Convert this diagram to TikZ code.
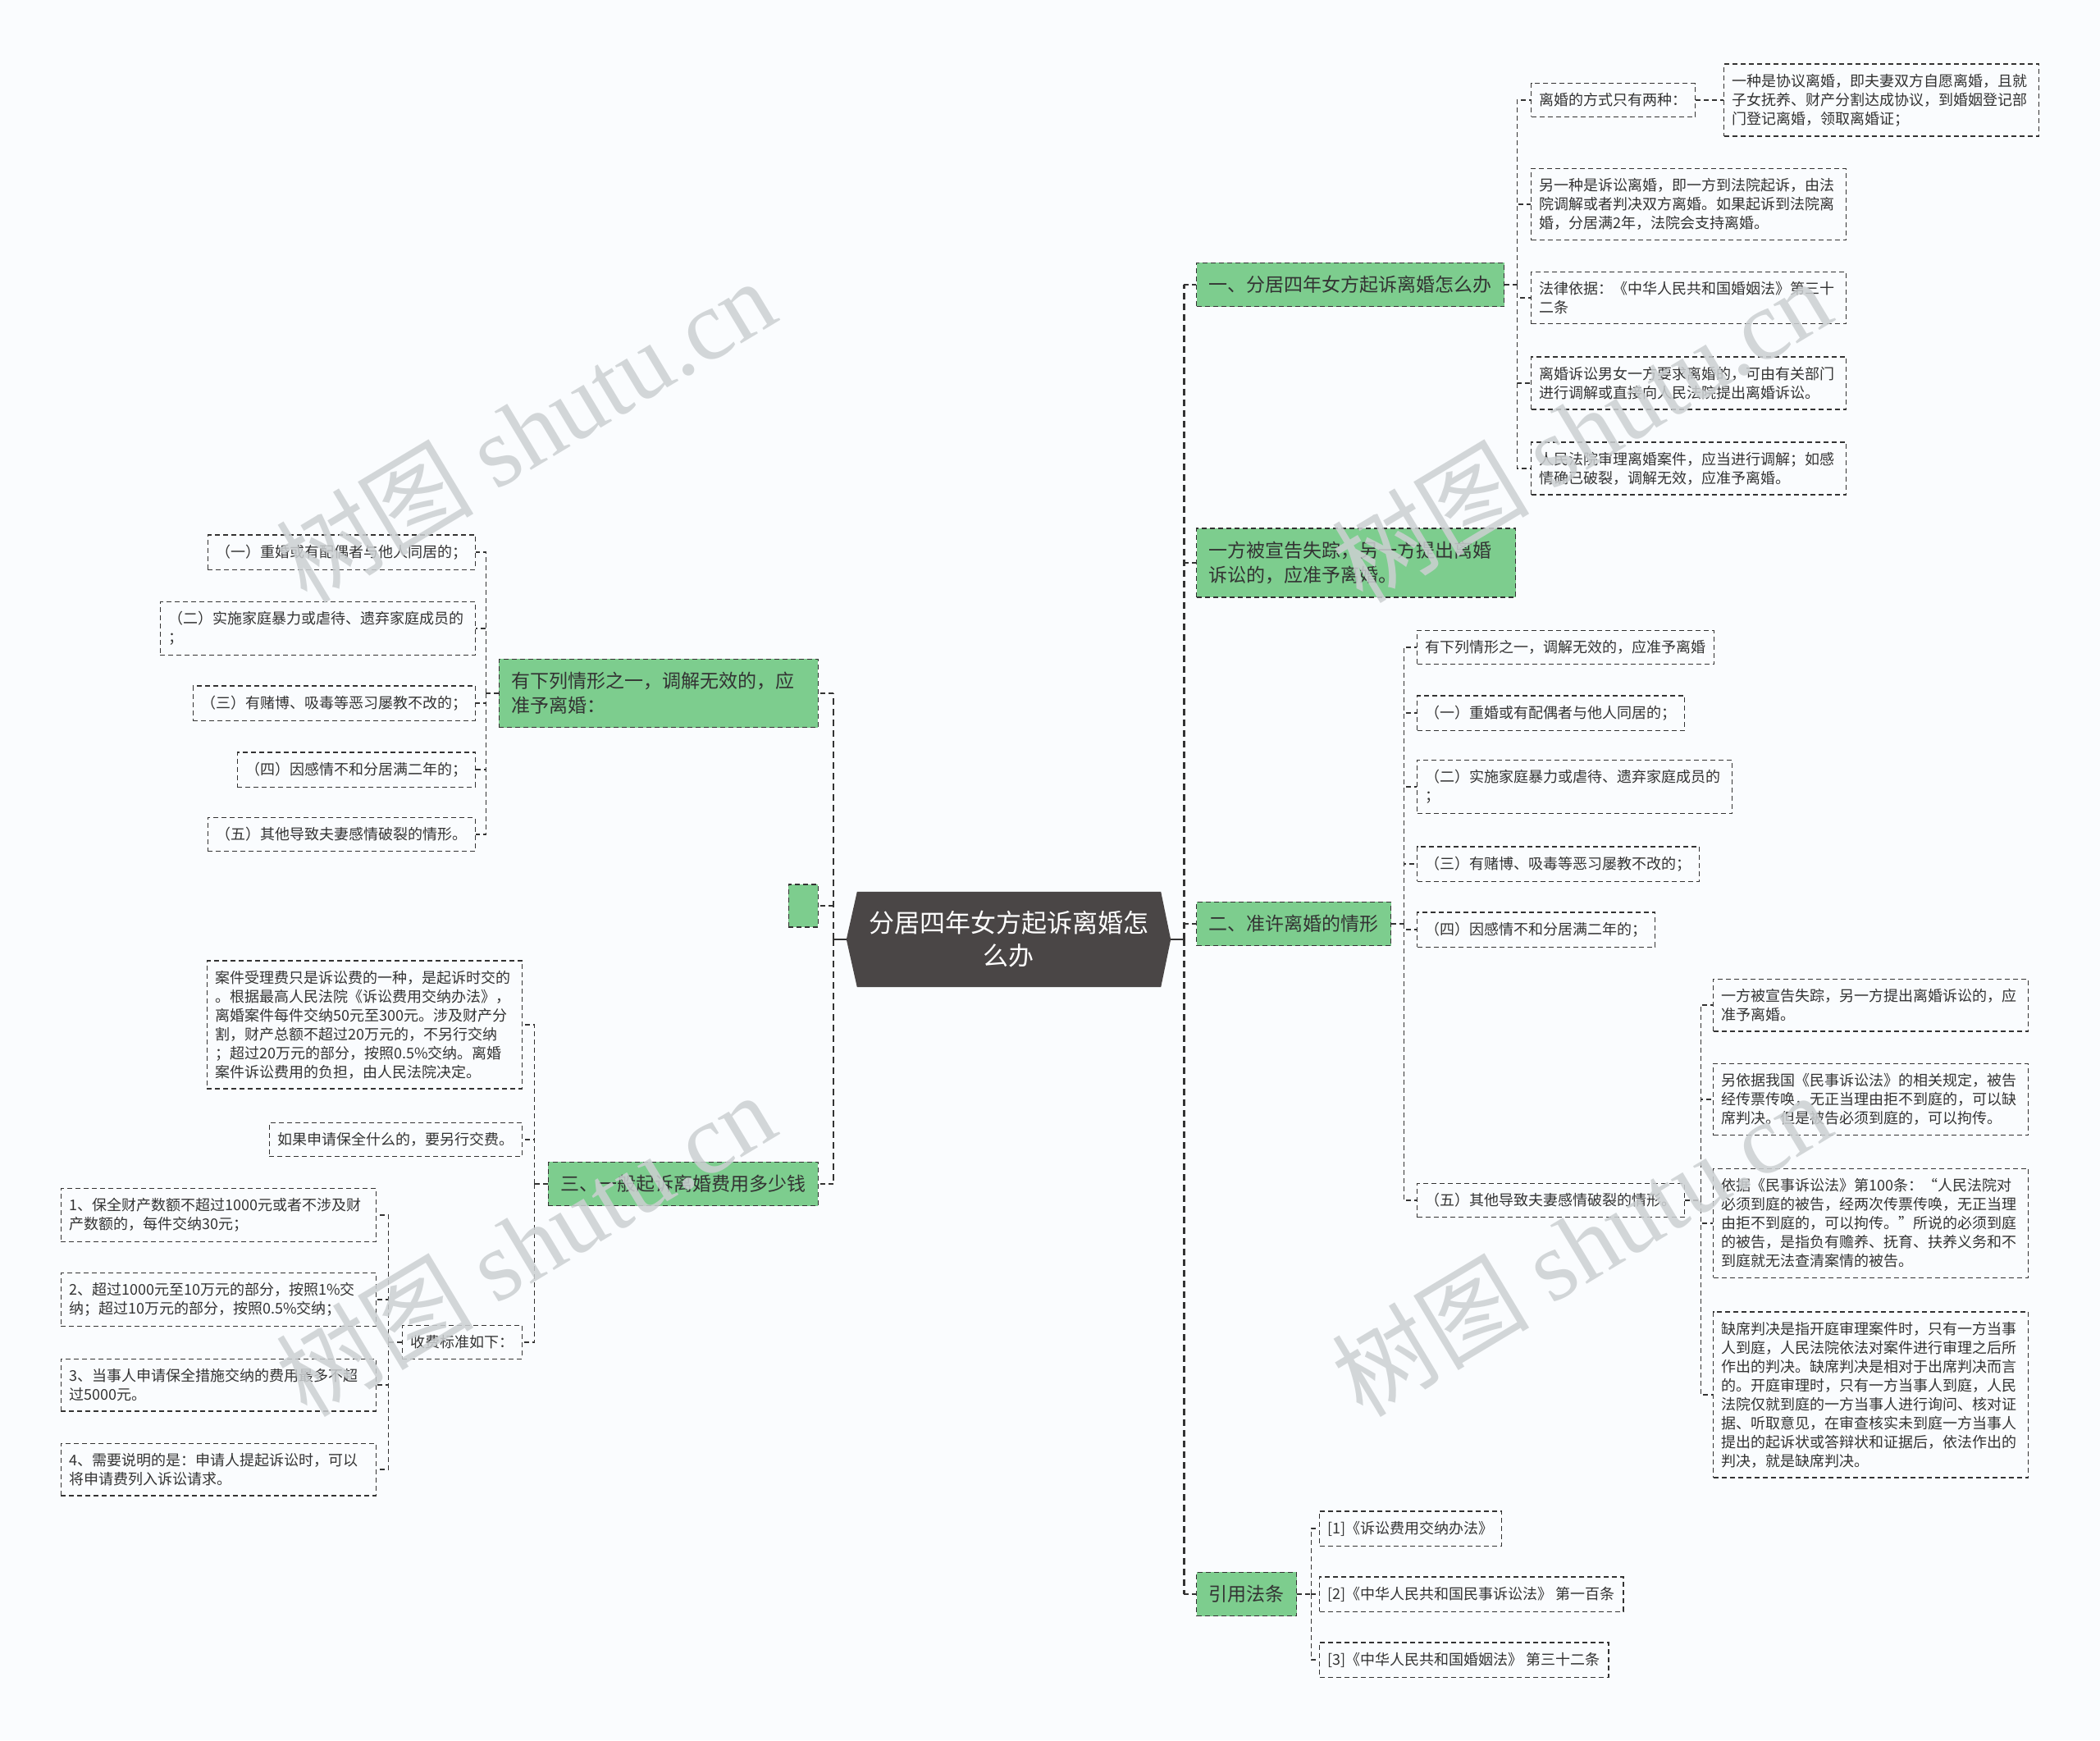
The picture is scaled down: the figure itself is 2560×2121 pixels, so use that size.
\documentclass[tikz,border=0pt]{standalone}
\usepackage{fontspec}
\setmainfont{Noto Sans CJK SC}
\newfontfamily\wmserif{Liberation Serif}
\usetikzlibrary{calc}
\pgfdeclarelayer{bg}
\pgfsetlayers{bg,main}
\definecolor{pagebg}{RGB}{250,252,254}
\definecolor{leafgreen}{RGB}{125,205,142}
\definecolor{hubfill}{RGB}{74,70,70}
\definecolor{ink}{RGB}{51,51,51}
\definecolor{wmgray}{RGB}{204,208,210}
\begin{document}
\begin{tikzpicture}[x=1pt,y=-1pt,
  box/.style={draw=ink, line width=1.3pt, dash pattern=on 6pt off 4pt, text=ink,
    font=\fontsize{18}{23}\selectfont, inner xsep=10pt, inner ysep=12pt, align=left},
  wide/.style={text width=364pt},
  greenbox/.style={box, fill=leafgreen, font=\fontsize{23}{30}\selectfont, inner xsep=15pt, inner ysep=16pt},
  hubtext/.style={text=white, font=\fontsize{31}{40}\selectfont, align=center,
    minimum width=395pt, minimum height=116pt, inner sep=0pt},
  link/.style={draw=ink, line width=1.3pt, dash pattern=on 6pt off 4pt},
  trunk/.style={draw=ink, line width=2.6pt, dash pattern=on 8pt off 5pt},
  hubline/.style={draw=ink, line width=2.6pt},
  watermark/.style={text=wmgray, opacity=0.85, rotate=31, font=\fontsize{121}{126}\selectfont},
]
\useasboundingbox (0,0) rectangle (2560,2121);

% ---------- centre ----------
\node[hubtext] (hub) at (1229.5,1145) {分居四年女方起诉离婚怎\\么办};
\begin{pgfonlayer}{bg}
\fill[pagebg] (0,0) rectangle (2560,2121);
\fill[hubfill] (hub.west) -- ([xshift=13pt]hub.north west) -- ([xshift=-12pt]hub.north east)
  -- (hub.east) -- ([xshift=-12pt]hub.south east) -- ([xshift=13pt]hub.south west) -- cycle;
\end{pgfonlayer}

% ---------- right level 1 ----------
\node[greenbox, anchor=west] (r1) at (1458,347) {一、分居四年女方起诉离婚怎么办};
\node[greenbox, anchor=west, text width=359pt] (r2) at (1458,686) {一方被宣告失踪，另一方提出离婚\\诉讼的，应准予离婚。};
\node[greenbox, anchor=west] (r3) at (1458,1126) {二、准许离婚的情形};
\node[greenbox, anchor=west] (r4) at (1458,1943) {引用法条};

% ---------- left level 1 ----------
\node[greenbox, anchor=east, text width=359pt] (l1) at (998,845) {有下列情形之一，调解无效的，应\\准予离婚：};
\node[greenbox, anchor=east, minimum width=36pt, minimum height=52pt, inner sep=0pt] (l2) at (998,1104) {};
\node[greenbox, anchor=east] (l3) at (998,1443) {三、一般起诉离婚费用多少钱};

% ---------- under r1 ----------
\node[box, anchor=west] (r1a) at (1866,122) {离婚的方式只有两种：};
\node[box, anchor=west, wide] (r1a1) at (2101,122) {一种是协议离婚，即夫妻双方自愿离婚，且就\\子女抚养、财产分割达成协议，到婚姻登记部\\门登记离婚，领取离婚证；};
\node[box, anchor=west, wide] (r1b) at (1866,249) {另一种是诉讼离婚，即一方到法院起诉，由法\\院调解或者判决双方离婚。如果起诉到法院离\\婚，分居满2年，法院会支持离婚。};
\node[box, anchor=west, wide] (r1c) at (1866,363) {法律依据：《中华人民共和国婚姻法》第三十\\二条};
\node[box, anchor=west, wide] (r1d) at (1866,467) {离婚诉讼男女一方要求离婚的，可由有关部门\\进行调解或直接向人民法院提出离婚诉讼。};
\node[box, anchor=west, wide] (r1e) at (1866,571) {人民法院审理离婚案件，应当进行调解；如感\\情确已破裂，调解无效，应准予离婚。};

% ---------- under r3 ----------
\node[box, anchor=west] (r3a) at (1727,789) {有下列情形之一，调解无效的，应准予离婚};
\node[box, anchor=west] (r3b) at (1727,869) {（一）重婚或有配偶者与他人同居的；};
\node[box, anchor=west, wide] (r3c) at (1727,959) {（二）实施家庭暴力或虐待、遗弃家庭成员的\\；};
\node[box, anchor=west] (r3d) at (1727,1053) {（三）有赌博、吸毒等恶习屡教不改的；};
\node[box, anchor=west] (r3e) at (1727,1133) {（四）因感情不和分居满二年的；};
\node[box, anchor=west] (r3f) at (1727,1463) {（五）其他导致夫妻感情破裂的情形。};

% ---------- under r3f ----------
\node[box, anchor=west, wide] (r3f1) at (2088,1225) {一方被宣告失踪，另一方提出离婚诉讼的，应\\准予离婚。};
\node[box, anchor=west, wide] (r3f2) at (2088,1340) {另依据我国《民事诉讼法》的相关规定，被告\\经传票传唤，无正当理由拒不到庭的，可以缺\\席判决。但是被告必须到庭的，可以拘传。};
\node[box, anchor=west, wide] (r3f3) at (2088,1491) {依据《民事诉讼法》第100条：“人民法院对\\必须到庭的被告，经两次传票传唤，无正当理\\由拒不到庭的，可以拘传。”所说的必须到庭\\的被告，是指负有赡养、抚育、扶养义务和不\\到庭就无法查清案情的被告。};
\node[box, anchor=west, wide] (r3f4) at (2088,1700) {缺席判决是指开庭审理案件时，只有一方当事\\人到庭，人民法院依法对案件进行审理之后所\\作出的判决。缺席判决是相对于出席判决而言\\的。开庭审理时，只有一方当事人到庭，人民\\法院仅就到庭的一方当事人进行询问、核对证\\据、听取意见，在审查核实未到庭一方当事人\\提出的起诉状或答辩状和证据后，依法作出的\\判决，就是缺席判决。};

% ---------- under r4 ----------
\node[box, anchor=west] (r4a) at (1608,1863) {[1]《诉讼费用交纳办法》};
\node[box, anchor=west] (r4b) at (1608,1943) {[2]《中华人民共和国民事诉讼法》 第一百条};
\node[box, anchor=west] (r4c) at (1608,2023) {[3]《中华人民共和国婚姻法》 第三十二条};

% ---------- under l1 ----------
\node[box, anchor=east] (l1a) at (580,673) {（一）重婚或有配偶者与他人同居的；};
\node[box, anchor=east, wide] (l1b) at (580,766) {（二）实施家庭暴力或虐待、遗弃家庭成员的\\；};
\node[box, anchor=east] (l1c) at (580,857) {（三）有赌博、吸毒等恶习屡教不改的；};
\node[box, anchor=east] (l1d) at (580,938) {（四）因感情不和分居满二年的；};
\node[box, anchor=east] (l1e) at (580,1017) {（五）其他导致夫妻感情破裂的情形。};

% ---------- under l3 ----------
\node[box, anchor=east, wide] (l3a) at (637,1249) {案件受理费只是诉讼费的一种，是起诉时交的\\。根据最高人民法院《诉讼费用交纳办法》，\\离婚案件每件交纳50元至300元。涉及财产分\\割，财产总额不超过20万元的，不另行交纳\\；超过20万元的部分，按照0.5\%交纳。离婚\\案件诉讼费用的负担，由人民法院决定。};
\node[box, anchor=east] (l3b) at (637,1389) {如果申请保全什么的，要另行交费。};
\node[box, anchor=east] (l3c) at (637,1636) {收费标准如下：};

% ---------- under l3c ----------
\node[box, anchor=east, wide] (l3c1) at (459,1481) {1、保全财产数额不超过1000元或者不涉及财\\产数额的，每件交纳30元；};
\node[box, anchor=east, wide] (l3c2) at (459,1584) {2、超过1000元至10万元的部分，按照1\%交\\纳；超过10万元的部分，按照0.5\%交纳；};
\node[box, anchor=east, wide] (l3c3) at (459,1688) {3、当事人申请保全措施交纳的费用最多不超\\过5000元。};
\node[box, anchor=east, wide] (l3c4) at (459,1791) {4、需要说明的是：申请人提起诉讼时，可以\\将申请费列入诉讼请求。};

% ---------- connectors ----------
\coordinate (rt) at ([xshift=16pt]hub.east);
\coordinate (lt) at ([xshift=-16pt]hub.west);
\draw[hubline] (hub.east) -- (rt);
\draw[hubline] (hub.west) -- (lt);
\foreach \nd in {r1,r2,r3,r4} {
  \draw[trunk] (rt) -- (rt |- \nd.west);
  \draw[link] (rt |- \nd.west) -- (\nd.west);
}
\foreach \nd in {l1,l2,l3} {
  \draw[trunk] (lt) -- (lt |- \nd.east);
  \draw[link] (lt |- \nd.east) -- (\nd.east);
}

\coordinate (br1) at ([xshift=15pt]r1.east);
\draw[link] (r1.east) -- (br1);
\foreach \ch in {r1a,r1b,r1c,r1d,r1e} \draw[link] (br1) |- (\ch.west);
\draw[link] (r1a.east) -- (r1a1.west);

\coordinate (br3) at ([xshift=15pt]r3.east);
\draw[link] (r3.east) -- (br3);
\foreach \ch in {r3a,r3b,r3c,r3d,r3e,r3f} \draw[link] (br3) |- (\ch.west);

\coordinate (br3f) at ([xshift=19pt]r3f.east);
\draw[link] (r3f.east) -- (br3f);
\foreach \ch in {r3f1,r3f2,r3f3,r3f4} \draw[link] (br3f) |- (\ch.west);

\coordinate (br4) at ([xshift=17pt]r4.east);
\draw[link] (r4.east) -- (br4);
\foreach \ch in {r4a,r4b,r4c} \draw[link] (br4) |- (\ch.west);

\coordinate (bl1) at ([xshift=-15pt]l1.west);
\draw[link] (l1.west) -- (bl1);
\foreach \ch in {l1a,l1b,l1c,l1d,l1e} \draw[link] (bl1) |- (\ch.east);

\coordinate (bl3) at ([xshift=-16pt]l3.west);
\draw[link] (l3.west) -- (bl3);
\foreach \ch in {l3a,l3b,l3c} \draw[link] (bl3) |- (\ch.east);

\coordinate (bl3c) at ([xshift=-16pt]l3c.west);
\draw[link] (l3c.west) -- (bl3c);
\foreach \ch in {l3c1,l3c2,l3c3,l3c4} \draw[link] (bl3c) |- (\ch.east);

% ---------- watermarks ----------
\node[watermark] (wm1) at (640,524) {树图 {\wmserif shutu.cn}};
\node[watermark] (wm2) at (1927,524) {树图 {\wmserif shutu.cn}};
\node[watermark] (wm3) at (640,1516) {树图 {\wmserif shutu.cn}};
\node[watermark] (wm4) at (1927,1516) {树图 {\wmserif shutu.cn}};
\end{tikzpicture}
\end{document}
